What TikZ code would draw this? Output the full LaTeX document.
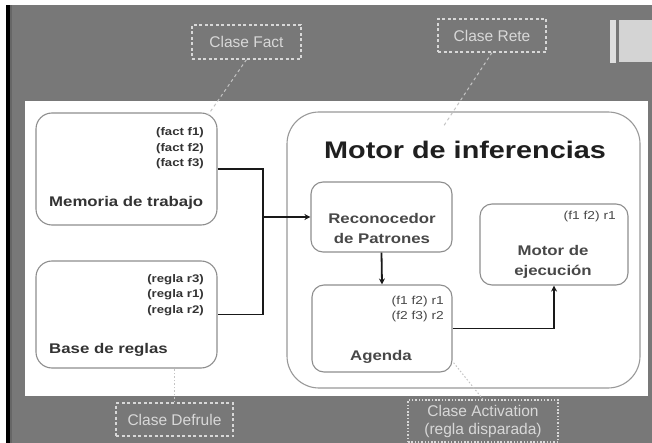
\documentclass[tikz,border=0pt]{standalone}
\usepackage{fontspec}
\setmainfont{Liberation Sans}[FakeStretch=1.2]
\newfontfamily\lblfont{Liberation Sans}
\usetikzlibrary{arrows.meta}
\definecolor{bggray}{HTML}{787878}
\definecolor{boxgray}{HTML}{8E8E8E}
\definecolor{lblgray}{HTML}{D8D8D8}
\definecolor{leadgray}{HTML}{C4C4C4}
\definecolor{txtdark}{HTML}{333333}
\definecolor{txtmid}{HTML}{484848}
\begin{document}
\begin{tikzpicture}[x=1pt,y=-1pt,
  ibox/.style={draw=boxgray, line width=1.1pt, fill=white, rounded corners=12pt, inner sep=0pt},
  itemtxt/.style={text=txtdark, inner sep=0pt, align=right, font=\fontsize{11}{15.5}\selectfont\bfseries},
  smalltxt/.style={text=txtmid, inner sep=0pt, align=right, font=\fontsize{11.5}{15}\selectfont},
  boxtxt/.style={text=txtmid, inner sep=0pt, align=center, font=\fontsize{14}{20.5}\selectfont\bfseries},
  storetxt/.style={text=txtdark, inner sep=0pt, font=\fontsize{14}{17}\selectfont\bfseries},
  lbl/.style={draw=lblgray, dashed, dash pattern=on 3pt off 2.5pt, line width=1.2pt, text=lblgray, inner sep=0pt, align=center, font=\lblfont\fontsize{15.5}{18}\selectfont},
  leader/.style={draw=leadgray, line width=1pt, dash pattern=on 3pt off 3pt},
  conn/.style={draw=black!90, line width=1.8pt},
  arr/.style={conn, -{Stealth[length=6pt,width=6pt]}}
]
\useasboundingbox (0,0) rectangle (652,443);
% background
\fill[white] (0,0) rectangle (652,443);
\fill[bggray] (6,5) rectangle (652,443);
\fill[black] (6,5) rectangle (10,443);
\fill[black!60] (10,5) rectangle (12,443);
\fill[white] (25,101) rectangle (648,396);
\fill[white!88!black] (610,20) rectangle (616,63);
\fill[white!83!black] (619,20) rectangle (652,62);

% stores
\node[ibox, rounded corners=16pt, minimum width=181pt, minimum height=112pt] (mem) at (126.5,169) {};
\node[ibox, rounded corners=16pt, minimum width=181pt, minimum height=107pt] (base) at (126.5,314.5) {};
\node[itemtxt, anchor=east] (memitems) at (204,148.5) {(fact f1)\\(fact f2)\\(fact f3)};
\node[storetxt, anchor=west] (memlabel) at (49,203) {Memoria de trabajo};
\node[itemtxt, anchor=east] (baseitems) at (204,295) {(regla r3)\\(regla r1)\\(regla r2)};
\node[storetxt, anchor=west] (baselabel) at (49,350) {Base de reglas};

% inference engine
\node[ibox, draw=boxgray!90, rounded corners=32pt, minimum width=353pt, minimum height=276pt] (motor) at (463.5,250) {};
\node[text=black!88, inner sep=0pt, font=\fontsize{24}{28}\selectfont\bfseries] (motortitle) at (465,150) {Motor de inferencias};
\node[ibox, minimum width=141pt, minimum height=70pt] (rec) at (381.5,217) {};
\node[boxtxt] (rectxt) at (382,228.5) {Reconocedor\\de Patrones};
\node[ibox, minimum width=140pt, minimum height=87pt] (agenda) at (382,328.5) {};
\node[smalltxt, anchor=east] (agitems) at (444,309.5) {(f1 f2) r1\\(f2 f3) r2};
\node[boxtxt] (agtxt) at (381,357) {Agenda};
\node[ibox, minimum width=148pt, minimum height=81pt] (ejec) at (554,244.5) {};
\node[smalltxt, anchor=east] (ejitems) at (616,217) {(f1 f2) r1};
\node[boxtxt] (ejtxt) at (553,262) {Motor de\\ejecución};

% connectors
\coordinate (jx) at (263,217);
\draw[conn] (mem.east) -| (jx) |- (base.east);
\draw[arr] (jx) -- (rec.west);
\draw[arr] (rec.south) -- (agenda.north);
\draw[arr] (agenda.east) -| (ejec.south);

% class labels
\node[lbl, minimum width=109pt, minimum height=34pt] (fact) at (246.5,42) {Clase Fact};
\node[lbl, minimum width=108pt, minimum height=33pt] (rete) at (492,35.5) {Clase Rete};
\node[lbl, minimum width=117pt, minimum height=33pt] (defrule) at (174.5,419.5) {Clase Defrule};
\node[lbl, dash pattern=on 1.5pt off 1.8pt, minimum width=150pt, minimum height=42pt] (activ) at (483,421) {Clase Activation\\(regla disparada)};

\coordinate (factend) at (208,115);
\coordinate (reteend) at (443,127);
\coordinate (activend) at (453,362);
\draw[leader] (fact.south) -- (factend);
\draw[leader] (rete.south) -- (reteend);
\draw[leader, dash pattern=on 1.5pt off 2pt] (defrule.north) -- (defrule.north |- base.south);
\draw[leader, dash pattern=on 1.5pt off 2pt] (activ.north) -- (activend);
\end{tikzpicture}
\end{document}
